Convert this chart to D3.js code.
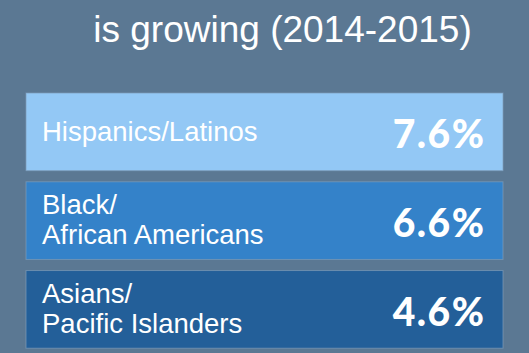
<!DOCTYPE html>
<html><head><meta charset="utf-8">
<script src="https://cdn.jsdelivr.net/npm/d3@7"></script>
<style>html,body{margin:0;padding:0;background:#5b7893;overflow:hidden}</style>
</head><body>
<script>
const titleLine = "is growing (2014-2015)";
const categories = ["Hispanics/Latinos", "Black/\nAfrican Americans", "Asians/\nPacific Islanders", "American Indians/\nAlaska Natives"];
const values = [7.6, 6.6, 4.6, 3.7];
const colors = ["#93c8f5", "#3482c9", "#235f99", "#183a5e"];

const W = 529, H = 353;
const svg = d3.select("body").append("svg").attr("width", W).attr("height", H);
svg.append("rect").attr("width", W).attr("height", H).attr("fill", "#5b7893");

svg.append("text").attr("x", 282.5).attr("y", 42).attr("text-anchor", "middle")
  .attr("font-family", "Liberation Sans, Arial, sans-serif").attr("font-size", 37)
  .attr("fill", "#fff").text(titleLine);

const y = d3.scaleBand().domain(categories).range([93, 93 + 86 * 4]).paddingInner(0.125).paddingOuter(0);
const x = d3.scaleLinear().domain([0, 1]).range([26, 503]);
const fmt = d => d3.format(".1f")(d) + "%";

const g = svg.selectAll("g.row").data(categories).join("g").attr("class", "row")
  .attr("transform", d => `translate(0,${y(d)})`);

g.append("rect").attr("x", x(0)).attr("width", x(1) - x(0)).attr("height", y.bandwidth())
  .attr("fill", (d, i) => colors[i]).attr("stroke", "#7d9cb9").attr("stroke-opacity", 0.7).attr("stroke-width", 1);

g.each(function(d, i) {
  // rows whose text lies below the visible picture only show the top of their box
  if (y(d) + 25 > H) return;
  const lines = d.split("\n");
  const t = d3.select(this).append("text").attr("font-family", "Liberation Sans, Arial, sans-serif")
    .attr("font-size", 27.5).attr("fill", "#fff");
  if (lines.length === 1) {
    t.append("tspan").attr("x", 42).attr("y", 48).text(lines[0]);
  } else {
    lines.forEach((l, j) => t.append("tspan").attr("x", 42).attr("y", 32 + j * 30).text(l));
  }
  d3.select(this).append("text").attr("x", x(1) - 17.5).attr("y", 55).attr("text-anchor", "end")
    .attr("font-family", "Lato, sans-serif").attr("font-weight", 900).attr("font-size", 39)
    .attr("letter-spacing", 1.5)
    .attr("fill", "#fff").text(fmt(values[i]));
});
</script>
</body></html>
